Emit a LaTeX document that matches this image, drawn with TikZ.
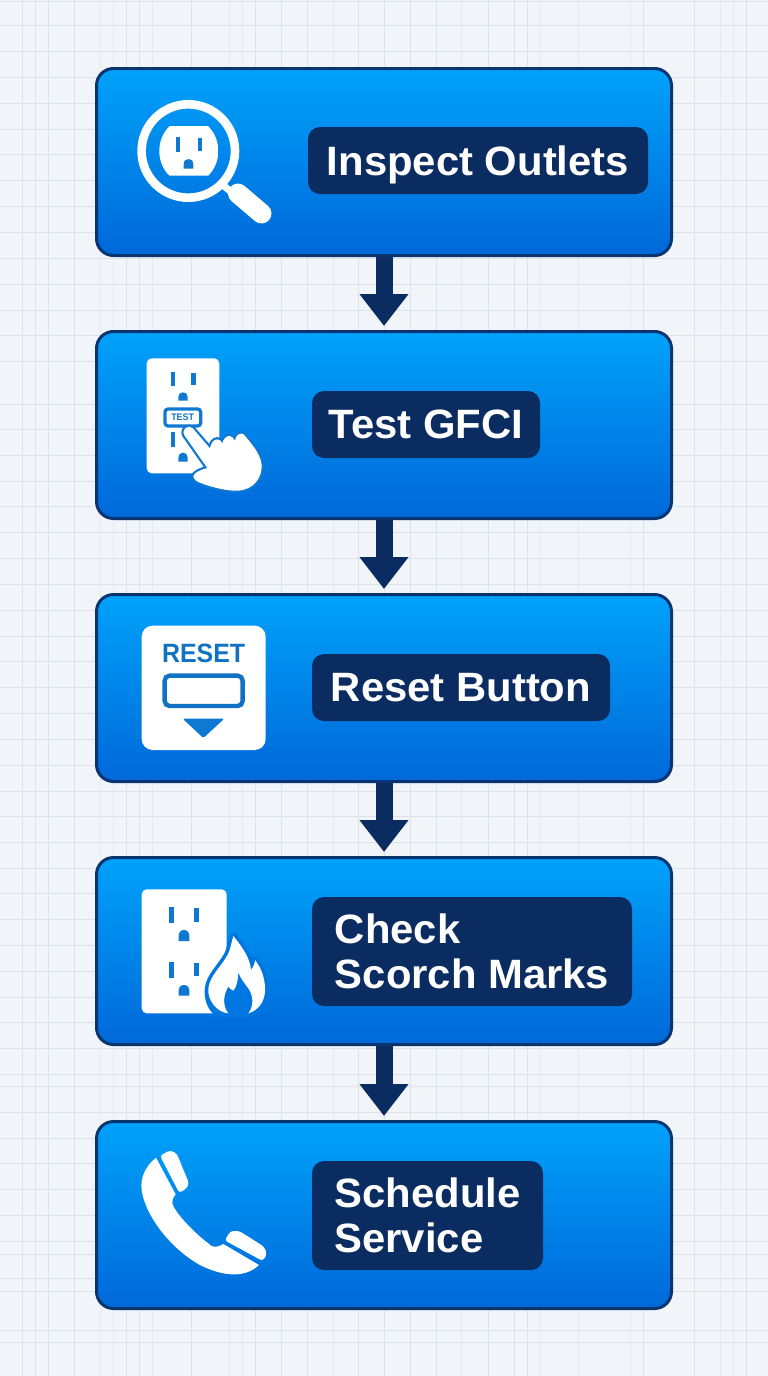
\documentclass[tikz,border=0pt]{standalone}
\usepackage{fontspec}
\setmainfont{Liberation Sans}[FakeStretch=1.02]
\newfontfamily\iconfont{Liberation Sans}[FakeStretch=.94]
\usetikzlibrary{arrows.meta}
\definecolor{paper}{HTML}{F1F4F8}
\definecolor{gridmaj}{HTML}{DDE2E7}
\definecolor{gridmin}{HTML}{E6EAEF}
\definecolor{navy}{HTML}{0B2C60}
\definecolor{edgeblue}{HTML}{0A3470}
\definecolor{topblue}{HTML}{00A2FA}
\definecolor{botblue}{HTML}{0068D9}
\definecolor{holeblue}{HTML}{0E78D2}
\definecolor{inkblue}{HTML}{1172C4}
\definecolor{flameback}{HTML}{0076E1}
\tikzset{
  stepbox/.style={draw=edgeblue,line width=3pt,rounded corners=17pt,top color=topblue,bottom color=botblue,middle color=topblue!50!botblue,shading angle=0,minimum width=575pt,minimum height=187pt,inner sep=0pt},
  lab/.style={fill=navy,rounded corners=12pt,text=white,inner sep=0pt,align=left,font=\fontsize{41}{44.5}\selectfont\bfseries},
  flow/.style={navy,line width=17pt,-{Triangle[width=47pt,length=32pt]},shorten >=4pt},
  handshape/.style={insert path={
    (194,287) -- (220,267) -- (270,325) .. controls (272,312) and (280,298) .. (292,298) .. controls (300,298) and (304,304) .. (307,310) .. controls (309,298) and (320,286) .. (330,288) .. controls (338,290) and (342,296) .. (345,303) .. controls (346,292) and (352,282) .. (362,281) .. controls (368,280) and (372,283) .. (376,289) .. controls (398,315) and (428,350) .. (425,385) .. controls (420,430) and (385,455) .. (340,452) .. controls (310,450) and (270,440) .. (245,430) .. controls (232,427) and (220,418) .. (220,408) .. controls (222,398) and (245,388) .. (262,384) -- cycle}},
}
\newcommand{\slotH}[4]{\fill[holeblue] (#1,#3) rectangle (#2,#4);}
\newcommand{\gndhole}[4]{\fill[holeblue,shift={(#1,#2)},xscale=#3,yscale=#4] (-1,1) -- (-1,.55) .. controls (-1,.2) and (-.6,0) .. (0,0) .. controls (.6,0) and (1,.2) .. (1,.55) -- (1,1) -- cycle;}
\begin{document}
\begin{tikzpicture}[x=1pt,y=-1pt]
\useasboundingbox (0,0) rectangle (768,1376);
\fill[paper] (0,0) rectangle (768,1376);
% grid
\foreach \v in {100,113,152,229,242,333,461,540,578,630,720,733}
  \draw[gridmin,line width=.8pt] (\v,0) -- (\v,1376);
\foreach \v in {22,35,48,74.5,126,139,191,255,281,307,358,384,410,436,488,514,527,643,694,746}
  \draw[gridmaj,line width=1pt] (\v,0) -- (\v,1376);
\foreach \h in {1,25.9,51.8,77.7,103.6,129.5,154.9,180.8,206.3,232.6,258.5,284.4,310.3,335.7,361.6,404,429.5,455.4,481,506.7,532.6,558.5,584.4,610.3,636.2,661.6,687.5,713.5,739.4,765.3,791.2,816.6,842.5,868.4,893.9,919.3,945.2,971.1,997,1022.9,1048.8,1074.2,1086.7,1112.6,1138,1163.9,1189.8,1215.2,1241.1,1254,1278.7,1291.4,1330,1342}
  \draw[gridmaj,line width=1pt] (0,\h) -- (768,\h);
% steps
\node[stepbox] (s1) at (384,162) {};
\node[stepbox] (s2) at (384,425) {};
\node[stepbox] (s3) at (384,688) {};
\node[stepbox] (s4) at (384,951) {};
\node[stepbox] (s5) at (384,1215) {};
\draw[flow] (s1.south) -- (s2.north);
\draw[flow] (s2.south) -- (s3.north);
\draw[flow] (s3.south) -- (s4.north);
\draw[flow] (s4.south) -- (s5.north);
% labels
\node[lab,minimum width=340pt,minimum height=67pt] (l1) at (478,160.5) {\raisebox{0pt}[\height][0pt]{Inspect Outlets}};
\node[lab,minimum width=228pt,minimum height=67pt] (l2) at (426,424.5) {Test GFCI};
\node[lab,minimum width=298pt,minimum height=67pt] (l3) at (461,687.5) {Reset Button};
\node[lab,minimum width=320pt,minimum height=109pt] (l4) at (472,951.5) {Check\\Scorch Marks};
\node[lab,minimum width=231pt,minimum height=109pt] (l5) at (427.5,1215.5) {Schedule\\Service};
% icon 1: magnifier with outlet
\draw[white,line width=8.6pt] (188.3,151) circle[radius=46.7];
\draw[white,line width=7pt] (224,186) -- (240,199);
\draw[white,line width=20pt,line cap=round] (238,193.5) -- (261.5,213.5);
\begin{scope}
  \clip[rounded corners=2pt] (159.3,126) rectangle (218.3,175.7);
  \fill[white] (188.8,151) circle[x radius=29.5,y radius=32.7];
\end{scope}
\slotH{175.7}{180.3}{136.7}{152}
\slotH{197.7}{202.3}{137.7}{150.7}
\gndhole{188.5}{159}{4.8}{9.7}
% icon 2: GFCI with hand
\begin{scope}[shift={(120,340)},scale=.33333]
  \fill[white,rounded corners=5pt] (80,55) rectangle (298,400);
  \slotH{152}{165}{97}{137}
  \slotH{214}{227}{100}{135}
  \gndhole{189}{157}{14}{25}
  \slotH{152}{165}{277}{320}
  \slotH{214}{227}{280}{320}
  \gndhole{189}{338}{14}{27}
  \draw[holeblue,line width=3.2pt,fill=white,rounded corners=3pt] (135,207) rectangle (242,258);
  \node[text=inkblue,font=\iconfont\fontsize{9.5}{10}\selectfont\bfseries,inner sep=0pt] (t2) at (188,232) {TEST};
  \fill[holeblue] (207,277) circle[radius=23];
  \draw[holeblue,line width=4.5pt,line join=round,handshape];
  \fill[white,handshape];
  \fill[white] (207,277) circle[radius=17];
\end{scope}
% icon 3: reset plate
\begin{scope}[shift={(120,610)},scale=.33333]
  \fill[white,rounded corners=11pt] (65,47) rectangle (437,420);
  \node[text=inkblue,font=\iconfont\fontsize{26.5}{28}\selectfont\bfseries,inner sep=0pt] (t3) at (251,129) {RESET};
  \draw[inkblue,line width=4.4pt,rounded corners=5pt] (134,197) rectangle (368,288);
  \fill[holeblue,rounded corners=1.5pt] (188,326) -- (313,326) -- (250,384) -- cycle;
\end{scope}
% icon 4: outlet with flame
\begin{scope}[shift={(120,875)},scale=.33333]
  \fill[white,rounded corners=5pt] (65,43) rectangle (320,415);
  \slotH{147}{162}{97}{145}
  \slotH{222}{237}{100}{140}
  \gndhole{192}{165}{16}{33}
  \slotH{147}{162}{262}{308}
  \slotH{222}{237}{265}{303}
  \gndhole{192}{330}{16}{32}
\end{scope}
\begin{scope}[shift={(200,925)},scale=.33333]
  \fill[flameback] (40,268) -- (160,268) -- (200,200) -- (110,30) -- (20,200) -- cycle;
  \draw[flameback,line width=7pt,line join=round]
    (100,33) .. controls (130,70) and (150,100) .. (153,135) .. controls (160,125) and (165,115) .. (165,105) .. controls (185,130) and (197,165) .. (195,200) .. controls (193,235) and (170,258) .. (145,265) -- (55,265) .. controls (30,250) and (22,215) .. (25,190) .. controls (30,150) and (65,125) .. (85,85) .. controls (90,70) and (95,50) .. (100,33) -- cycle;
  \fill[white]
    (100,33) .. controls (130,70) and (150,100) .. (153,135) .. controls (160,125) and (165,115) .. (165,105) .. controls (185,130) and (197,165) .. (195,200) .. controls (193,235) and (170,258) .. (145,265)
    .. controls (160,245) and (162,215) .. (145,190) .. controls (130,170) and (118,155) .. (115,140) .. controls (115,165) and (108,190) .. (100,197) .. controls (95,195) and (88,190) .. (85,185) .. controls (72,205) and (65,240) .. (85,265)
    .. controls (50,262) and (22,225) .. (25,190) .. controls (30,150) and (65,125) .. (85,85) .. controls (92,70) and (95,50) .. (100,33) -- cycle;
\end{scope}
% icon 5: phone
\begin{scope}[shift={(120,1135)},scale=.33333]
  \fill[white] (108,68) .. controls (75,95) and (60,130) .. (65,165) .. controls (75,240) and (150,340) .. (240,390) .. controls (310,425) and (375,430) .. (417,390) -- (310,327) .. controls (295,335) and (280,342) .. (265,325) .. controls (230,300) and (165,235) .. (157,205) .. controls (155,195) and (160,185) .. (167,178) -- cycle;
  \fill[white,rounded corners=3pt] (120,62) -- (150,46) -- (170,55) -- (207,145) -- (200,160) -- (178,174) -- cycle;
  \fill[white,rounded corners=3pt] (314,316) -- (332,288) -- (358,288) -- (432,335) -- (441,357) -- (428,378) -- cycle;
\end{scope}
\end{tikzpicture}
\end{document}
